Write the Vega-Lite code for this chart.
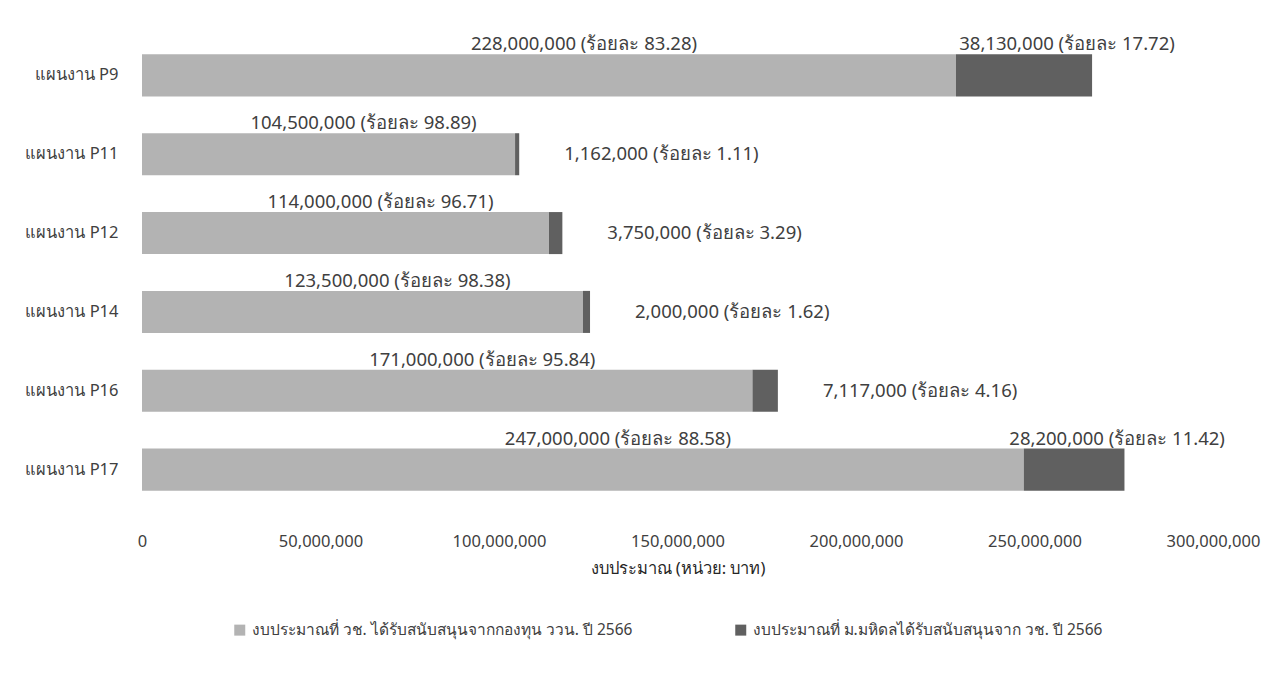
{
  "$schema": "https://vega.github.io/schema/vega-lite/v6.json",
  "width": 1071,
  "height": 473,
  "padding": {"left": 24, "top": 35, "right": 10, "bottom": 10},
  "config": {
    "font": "Noto Sans",
    "view": {"stroke": null},
    "axis": {"labelColor": "#404040", "titleColor": "#262626", "grid": false, "domain": false, "ticks": false},
    "legend": {"labelColor": "#404040"}
  },
  "data": {
    "values": [
      {"plan": "แผนงาน P9", "source": "งบประมาณที่ วช. ได้รับสนับสนุนจากกองทุน ววน. ปี 2566", "value": 228000000, "pct": 83.28},
      {"plan": "แผนงาน P9", "source": "งบประมาณที่ ม.มหิดลได้รับสนับสนุนจาก วช. ปี 2566", "value": 38130000, "pct": 17.72},
      {"plan": "แผนงาน P11", "source": "งบประมาณที่ วช. ได้รับสนับสนุนจากกองทุน ววน. ปี 2566", "value": 104500000, "pct": 98.89},
      {"plan": "แผนงาน P11", "source": "งบประมาณที่ ม.มหิดลได้รับสนับสนุนจาก วช. ปี 2566", "value": 1162000, "pct": 1.11},
      {"plan": "แผนงาน P12", "source": "งบประมาณที่ วช. ได้รับสนับสนุนจากกองทุน ววน. ปี 2566", "value": 114000000, "pct": 96.71},
      {"plan": "แผนงาน P12", "source": "งบประมาณที่ ม.มหิดลได้รับสนับสนุนจาก วช. ปี 2566", "value": 3750000, "pct": 3.29},
      {"plan": "แผนงาน P14", "source": "งบประมาณที่ วช. ได้รับสนับสนุนจากกองทุน ววน. ปี 2566", "value": 123500000, "pct": 98.38},
      {"plan": "แผนงาน P14", "source": "งบประมาณที่ ม.มหิดลได้รับสนับสนุนจาก วช. ปี 2566", "value": 2000000, "pct": 1.62},
      {"plan": "แผนงาน P16", "source": "งบประมาณที่ วช. ได้รับสนับสนุนจากกองทุน ววน. ปี 2566", "value": 171000000, "pct": 95.84},
      {"plan": "แผนงาน P16", "source": "งบประมาณที่ ม.มหิดลได้รับสนับสนุนจาก วช. ปี 2566", "value": 7117000, "pct": 4.16},
      {"plan": "แผนงาน P17", "source": "งบประมาณที่ วช. ได้รับสนับสนุนจากกองทุน ววน. ปี 2566", "value": 247000000, "pct": 88.58},
      {"plan": "แผนงาน P17", "source": "งบประมาณที่ ม.มหิดลได้รับสนับสนุนจาก วช. ปี 2566", "value": 28200000, "pct": 11.42}
    ]
  },
  "transform": [
    {"stack": "value", "groupby": ["plan"], "sort": [{"field": "value", "order": "descending"}], "as": ["x0", "x1"]},
    {"calculate": "(datum.x0 + datum.x1) / 2", "as": "mid"},
    {"calculate": "format(datum.value, ',.0f') + ' (ร้อยละ ' + format(datum.pct, '.2f') + ')'", "as": "label"},
    {"calculate": "datum.x0 == 0 ? 1 : 2", "as": "seg"}
  ],
  "encoding": {
    "y": {
      "field": "plan", "type": "nominal",
      "sort": ["แผนงาน P9", "แผนงาน P11", "แผนงาน P12", "แผนงาน P14", "แผนงาน P16", "แผนงาน P17"],
      "scale": {"paddingInner": 0.467, "paddingOuter": 0.233},
      "axis": {"title": null, "labelFontSize": 16.5, "labelPadding": 24}
    }
  },
  "layer": [
    {
      "mark": {"type": "bar"},
      "encoding": {
        "x": {
          "field": "x0", "type": "quantitative",
          "scale": {"domain": [0, 300000000], "nice": false},
          "axis": {"title": "งบประมาณ (หน่วย: บาท)", "format": ",.0f", "values": [0, 50000000, 100000000, 150000000, 200000000, 250000000, 300000000], "labelFlush": false, "labelFontSize": 16.5, "labelPadding": 24, "titleFontSize": 16.5, "titleFontWeight": "normal", "titlePadding": 11}
        },
        "x2": {"field": "x1"},
        "color": {
          "field": "source", "type": "nominal",
          "scale": {"domain": ["งบประมาณที่ วช. ได้รับสนับสนุนจากกองทุน ววน. ปี 2566", "งบประมาณที่ ม.มหิดลได้รับสนับสนุนจาก วช. ปี 2566"], "range": ["#b3b3b3", "#606060"]},
          "legend": {"title": null, "orient": "none", "legendX": 90, "legendY": 586, "direction": "horizontal", "columns": 2, "symbolType": "square", "symbolSize": 121, "labelFontSize": 15.5, "labelLimit": 600, "labelOffset": 4, "columnPadding": 100, "symbolStrokeWidth": 0}
        }
      }
    },
    {
      "transform": [{"filter": "datum.seg == 1"}],
      "mark": {"type": "text", "fontSize": 18.5, "color": "#404040", "dx": 35, "dy": -31},
      "encoding": {
        "x": {"field": "mid", "type": "quantitative"},
        "text": {"field": "label"}
      }
    },
    {
      "transform": [{"filter": "datum.seg == 2 && datum.value > 20000000"}],
      "mark": {"type": "text", "fontSize": 18.5, "color": "#404040", "dx": 43, "dy": -31},
      "encoding": {
        "x": {"field": "mid", "type": "quantitative"},
        "text": {"field": "label"}
      }
    },
    {
      "transform": [{"filter": "datum.seg == 2 && datum.value < 20000000"}],
      "mark": {"type": "text", "fontSize": 18.5, "color": "#404040", "align": "left", "dx": 45},
      "encoding": {
        "x": {"field": "x1", "type": "quantitative"},
        "text": {"field": "label"}
      }
    }
  ]
}
